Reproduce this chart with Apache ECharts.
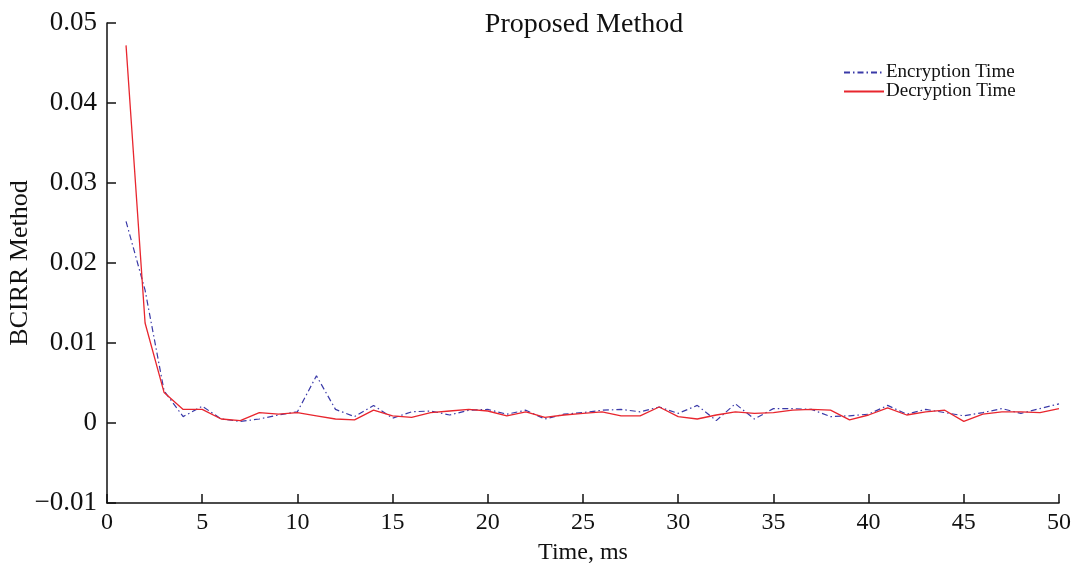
<!DOCTYPE html>
<html>
<head>
<meta charset="utf-8">
<script src="https://cdn.jsdelivr.net/npm/echarts@6/dist/echarts.min.js"></script>
<style>
  html, body { margin: 0; padding: 0; background: #fff; }
  #chart { width: 1076px; height: 569px; }
</style>
</head>
<body>
<div id="chart"></div>
<script>
// 时间点 1..50 ms
const timeMs = [1, 2, 3, 4, 5, 6, 7, 8, 9, 10, 11, 12, 13, 14, 15, 16, 17, 18, 19, 20,
  21, 22, 23, 24, 25, 26, 27, 28, 29, 30, 31, 32, 33, 34, 35, 36, 37, 38, 39, 40,
  41, 42, 43, 44, 45, 46, 47, 48, 49, 50]

const encryptionTime = [0.0252, 0.0166, 0.0040, 0.0008, 0.0021, 0.0005, 0.0002, 0.0005, 0.0010, 0.0014,
  0.0059, 0.0017, 0.0008, 0.0022, 0.0006, 0.0014, 0.0015, 0.0010, 0.0016, 0.0017,
  0.0011, 0.0016, 0.0005, 0.0011, 0.0013, 0.0016, 0.0017, 0.0014, 0.0020, 0.0012,
  0.0022, 0.0003, 0.0024, 0.0005, 0.0018, 0.0018, 0.0017, 0.0008, 0.0009, 0.0011,
  0.0022, 0.0011, 0.0017, 0.0013, 0.0009, 0.0013, 0.0018, 0.0012, 0.0018, 0.0024]

const decryptionTime = [0.0472, 0.0125, 0.0038, 0.0017, 0.0017, 0.0005, 0.0003, 0.0013, 0.0011, 0.0013,
  0.0009, 0.0005, 0.0004, 0.0016, 0.0009, 0.0007, 0.0013, 0.0015, 0.0017, 0.0015,
  0.0009, 0.0014, 0.0007, 0.0010, 0.0012, 0.0014, 0.0009, 0.0009, 0.0020, 0.0008,
  0.0005, 0.0010, 0.0014, 0.0012, 0.0013, 0.0016, 0.0017, 0.0016, 0.0004, 0.0010,
  0.0019, 0.0010, 0.0014, 0.0016, 0.0002, 0.0011, 0.0014, 0.0014, 0.0013, 0.0018]

const seriesNames = ['Encryption Time', 'Decryption Time']

const chart = echarts.init(document.getElementById('chart'))
const serif = '"Liberation Serif", "DejaVu Serif", serif'

const axisStyle = {
  axisLine: { onZero: false, lineStyle: { color: '#111', width: 1.5 } },
  axisTick: { inside: true, length: 9, lineStyle: { color: '#111', width: 1.5 } },
  splitLine: { show: false }
}

const option = {
  animation: false,
  backgroundColor: '#fff',
  title: {
    text: 'Proposed Method',
    left: 579,
    top: 6,
    textAlign: 'center',
    textStyle: { fontFamily: serif, fontSize: 28, fontWeight: 'normal', color: '#111' }
  },
  legend: {
    data: seriesNames,
    orient: 'vertical',
    left: 838,
    top: 58,
    itemGap: 0,
    itemWidth: 40,
    itemHeight: 12,
    itemStyle: { opacity: 0 },
    textStyle: { fontFamily: serif, fontSize: 19, lineHeight: 19, color: '#111', padding: [0, 0, 0, -3] }
  },
  grid: { left: 107, right: 17, top: 23, bottom: 66, outerBoundsMode: 'none' },
  xAxis: {
    type: 'value',
    min: 0,
    max: 50,
    interval: 5,
    name: 'Time, ms',
    nameLocation: 'middle',
    nameGap: 38,
    nameTextStyle: { fontFamily: serif, fontSize: 24, color: '#111' },
    ...axisStyle,
    axisLabel: { fontFamily: serif, fontSize: 24, color: '#111', margin: 8 }
  },
  yAxis: {
    type: 'value',
    min: -0.01,
    max: 0.05,
    interval: 0.01,
    name: 'BCIRR Method',
    nameLocation: 'middle',
    nameGap: 74,
    nameMoveOverlap: false,
    nameTextStyle: { fontFamily: serif, fontSize: 26, color: '#111' },
    ...axisStyle,
    axisLabel: {
      fontFamily: serif,
      fontSize: 27,
      color: '#111',
      margin: 10,
      formatter: v => {
        const r = Math.round(v * 100) / 100
        if (r === 0) return '0'
        return r < 0 ? '\u2212' + Math.abs(r).toFixed(2) : r.toFixed(2)
      }
    }
  },
  series: [
    {
      name: seriesNames[0],
      type: 'line',
      symbol: 'none',
      data: timeMs.map((t, i) => [t, encryptionTime[i]]),
      lineStyle: { color: '#3a3aa8', width: 1.2, type: [6, 3, 1.5, 3] },
      itemStyle: { color: '#3a3aa8' }
    },
    {
      name: seriesNames[1],
      type: 'line',
      symbol: 'none',
      data: timeMs.map((t, i) => [t, decryptionTime[i]]),
      lineStyle: { color: '#e8262e', width: 1.3 },
      itemStyle: { color: '#e8262e' }
    }
  ]
}

chart.setOption(option)
</script>
</body>
</html>
